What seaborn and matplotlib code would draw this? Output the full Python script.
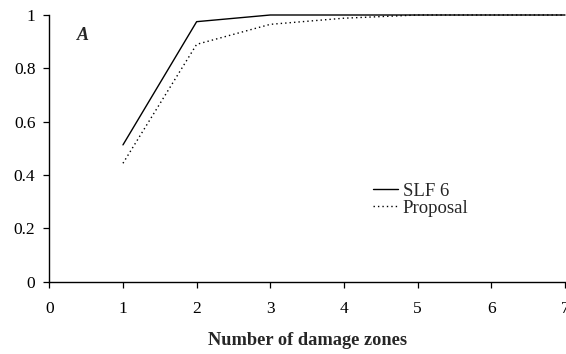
import matplotlib
matplotlib.use("Agg")
import matplotlib.pyplot as plt
import seaborn as sns
import pandas as pd

zones = [1, 2, 3, 4, 5, 6, 7]
slf6 = [0.513, 0.975, 1.0, 1.0, 1.0, 1.0, 1.0]
proposal = [0.444, 0.89, 0.965, 0.988, 1.0, 1.0, 1.0]
x_ticks = [0, 1, 2, 3, 4, 5, 6, 7]
y_ticks = [0, 0.2, 0.4, 0.6, 0.8, 1]
y_tick_labels = ["0", "0.2", "0.4", "0.6", "0.8", "1"]
series_names = ["SLF 6", "Proposal"]

sns.set_theme(style="white")
plt.rcParams['font.family'] = ['Liberation Serif', 'DejaVu Serif']

df = pd.DataFrame({
    "zones": zones * 2,
    "value": slf6 + proposal,
    "series": [series_names[0]] * len(zones) + [series_names[1]] * len(zones),
})

fig = plt.figure(figsize=(5.66, 3.54), dpi=100)
ax = fig.add_axes([49.3 / 566, 1 - 281.7 / 354, (565 - 49.3) / 566, (281.7 - 15) / 354])

sns.lineplot(data=df, x="zones", y="value", hue="series", style="series",
             palette={series_names[0]: "black", series_names[1]: "black"},
             dashes={series_names[0]: "", series_names[1]: (1, 2.2)},
             linewidth=1.0, ax=ax, legend=True)
for ln in ax.get_lines():
    ln.set_clip_on(False)

ax.set_xlim(0, 7)
ax.set_ylim(0, 1)
ax.set_xticks(x_ticks)
ax.set_xticklabels([str(t) for t in x_ticks])
ax.set_yticks(y_ticks)
ax.set_yticklabels(y_tick_labels)
ax.tick_params(axis="both", labelsize=12.5, length=4, width=0.9, color="black",
               labelcolor="black", direction="out", bottom=True, left=True)
ax.tick_params(axis="x", pad=10)
ax.tick_params(axis="y", pad=6)
for s in ["top", "right"]:
    ax.spines[s].set_visible(False)
for s in ["left", "bottom"]:
    ax.spines[s].set_color("black")
    ax.spines[s].set_linewidth(1.0)
ax.set_ylabel("")
ax.set_xlabel("Number of damage zones", fontsize=13.2, fontweight="bold", labelpad=11)

ax.text(0.376, 0.925, "A", fontsize=13, fontweight="bold", fontstyle="italic",
        ha="left", va="center", transform=ax.transData)

handles, labels = ax.get_legend_handles_labels()
leg = ax.legend(handles, labels, loc="center left",
                bbox_to_anchor=((373 - 49.3) / (565 - 49.3), (281.7 - 199.5) / (281.7 - 15)),
                frameon=False, fontsize=13.5, handlelength=1.33, handletextpad=0.25,
                labelspacing=0.0, borderaxespad=0, borderpad=0)

fig.savefig("out.png", dpi=100)
